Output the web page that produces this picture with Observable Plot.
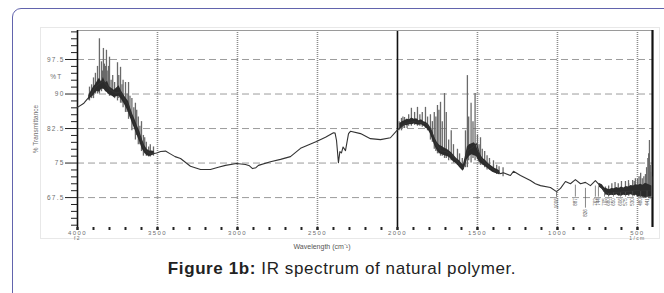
<!DOCTYPE html>
<html><head><meta charset="utf-8">
<script src="https://cdn.jsdelivr.net/npm/d3@7"></script>
<script src="https://cdn.jsdelivr.net/npm/@observablehq/plot@0.6"></script>
<style>
body{margin:0;background:#fff;font-family:"Liberation Sans",Arial,sans-serif;}
#wrap{position:relative;width:664px;height:293px;overflow:hidden;background:#fff;}
#frame{position:absolute;left:12px;top:8px;width:700px;height:330px;border:1.5px solid #6264ad;border-top-left-radius:9px;box-sizing:border-box;}
#imgbox{position:absolute;left:40px;top:27px;width:620px;height:212px;border:1px solid #e8e8e8;box-sizing:border-box;}
#chart{position:absolute;left:0;top:0;}
#chart g[aria-label="x-axis tick label"] text{letter-spacing:1.4px;}
#chart g[aria-label="y-axis tick label"] text{letter-spacing:1.2px;}
#cap{position:absolute;left:0;width:684px;top:259px;text-align:center;font-size:17px;letter-spacing:0.6px;color:#222;white-space:nowrap;}
</style></head>
<body>
<div id="wrap">
  <div id="frame"></div>
  <div id="imgbox"></div>
  <div id="chart"></div>
  <div id="cap"><b>Figure 1b:</b> IR spectrum of natural polymer.</div>
</div>
<script>
// axis settings
const xDomain = [4000, 406];
const yDomain = [61, 103.8];
const xMajor = [4000, 3500, 3000, 2500, 2000, 1500, 1000, 500];
const xSubTicks = [4000, 500];
const xSubLabels = ["f2", "1/cm"];
const xDotted = [3500, 3000, 2500, 1500, 1000, 500];
const xSolid = [2000];
const yMajor = [97.5, 90, 82.5, 75, 67.5];
const yUnitTick = [93.75];
const yUnitLabel = "%T";

// spectrum (wavenumber, %T) – mean trace
const spectrum = [
  [4000,87.1],[3960,88],[3919,89.7],[3888,91.5],[3860,92.3],[3838,92.8],[3819,92],[3800,91],
  [3780,90.6],[3760,90.2],[3731,90.5],[3710,89],[3681,87.5],[3669,86],[3650,84],[3638,83],
  [3620,81.5],[3606,80.5],[3588,78.5],[3575,77.7],[3544,77],[3520,77.1],[3506,77.2],[3480,77.5],
  [3450,77.6],[3420,77],[3390,76.4],[3356,76],[3294,74.3],[3231,73.6],[3169,73.6],[3120,74.1],
  [3075,74.5],[3006,74.9],[2950,74.7],[2925,74.4],[2906,73.8],[2885,74],[2869,74.5],[2794,75.3],
  [2731,75.8],[2669,76.4],[2606,78.2],[2506,79.7],[2450,80.6],[2400,81.6],[2390,81.5],[2381,79.9],
  [2369,75.1],[2360,77.5],[2350,77.2],[2340,78.5],[2325,77.7],[2306,81.4],[2294,81.9],[2231,81.4],
  [2169,80.3],[2106,80.1],[2044,80.5],[2000,82.2],[1950,83.6],[1900,84],[1856,83.8],[1820,83.5],
  [1794,82.5],[1763,79.5],[1731,77.7],[1700,77.5],[1669,77],[1640,76],[1606,74.5],[1588,73.8],
  [1563,77.7],[1531,78.4],[1506,79.2],[1481,76.2],[1450,75],[1419,74],[1380,73.2],[1356,72.7],
  [1338,72.9],[1294,72.3],[1275,73.2],[1231,72.3],[1169,71.2],[1138,70.5],[1106,70.1],[1044,69.7],
  [1006,68.8],[981,69.5],[950,71],[919,70.5],[888,71.4],[856,70.5],[825,70.8],[794,70.1],
  [763,71.2],[744,70.5],[706,68.8],[681,68.4],[638,68.6],[575,68.8],[513,69],[450,69],[419,69]
];

// noisy spikes (wavenumber, low, high)
const spikes = [
  [3925,88.5,91.5],[3912,89,92],[3900,89,93.5],[3888,90,94.5],[3875,90,96],[3863,90,102],
  [3850,90.5,97],[3843,91,95],[3838,91,99.9],[3832,91,96.5],[3825,90.5,96],[3819,90.5,99.5],
  [3810,90,95],[3806,90,96],[3800,89.5,98],[3790,89.5,93],[3780,89.5,94],[3768,89,92.5],
  [3750,88.5,96.8],[3742,89,94],[3731,88,95.8],[3722,88,92],[3715,87,93],[3700,86,92.5],
  [3690,86,90],[3681,84.5,92.5],[3672,85,89.5],[3660,82,89],[3648,83,87],[3638,80,88],
  [3630,81,86.5],[3620,79,85],[3610,79,83],[3600,77.5,84],[3588,76.5,81],[3580,77,80.5],
  [3570,76.5,79.5],[3555,76.3,78.5],[3545,76.3,79],[3525,76.5,78.5],
  [1990,82,84],[1975,82,84.7],[1966,82.5,85],[1956,82.5,84.9],[1940,82.5,84.5],[1930,83,85.5],
  [1913,83,86.9],[1893,83.2,86],[1875,83,87.1],[1860,83,85.5],[1845,82.8,86],[1825,82.5,87.1],
  [1812,82,85],[1794,80,85.5],[1782,79.5,84],[1770,78,86],[1760,77.5,85],[1750,77,87.5],
  [1741,77,86.5],[1731,76.5,88.2],[1720,76.5,84],[1706,76,90.1],[1695,76,86],[1680,75.5,80],
  [1664,75.5,82],[1650,75,79],[1625,74.5,78],[1612,74,77],[1595,73.5,76],[1575,74,82],
  [1563,74,94],[1555,75.5,85],[1540,75,88],[1528,76,84],[1515,75.5,90.1],[1500,76,81],
  [1490,75,79],[1481,74.5,80.5],[1470,74.5,78],[1455,74,77.5],[1440,73.5,76.6],[1425,73.5,76],
  [1400,73,75.5],[1380,72.5,74.5],[1365,72.5,74.2],[1340,72,74],
  [700,68,69.8],[680,67.8,70],[660,68,70.5],[640,68,70.8],[620,68,70.5],[600,67.8,71],
  [575,68,71],[556,68,71.2],[555,67.8,70.5],[530,68,71.2],[520,67.8,71],[513,68.2,71.6],
  [500,67.5,71.5],[490,67.5,72],[480,67.5,72.8],[470,67.5,71.6],[460,67.3,72],[450,67.3,72.5],
  [443,67.4,74],[435,67.5,76],[430,67.3,77],[425,67.3,79.9],[420,67.2,74.5],[415,67.5,73],[412,67.5,72]
];

// dense dark noise bands (wavenumber, low, high)
const band1 = [
  [3930,88.6,89.6],[3915,89.2,90.6],[3900,89.6,91.5],[3888,90.2,92],[3875,90.6,92.8],[3863,90.4,93.4],
  [3850,91,92.6],[3838,91.2,93.6],[3825,90.6,92.4],[3812,90.2,92.8],[3800,89.8,91.6],[3785,89.6,91.2],
  [3770,89.2,90.8],[3755,89.4,91.3],[3740,89.5,91.8],[3725,88.8,90.6],[3710,88,89.8],[3695,87,89],
  [3681,86,88.4],[3669,84.8,87],[3655,83.5,85.6],[3640,82.2,84.4],[3625,80.8,83],[3610,79.5,81.8],
  [3595,78,80.2],[3580,77.2,78.8],[3565,76.6,78],[3550,76.4,77.6],[3535,76.6,77.6],[3520,76.8,77.5]
];
const band2 = [
  [1985,82.4,83.6],[1970,82.8,84],[1955,83.2,84.2],[1940,83.1,84.5],[1925,83.4,84.4],[1910,83.3,84.8],
  [1895,83.5,84.5],[1880,83.3,84.6],[1865,83.2,84.2],[1850,83.3,84.4],[1835,83,84],[1820,82.6,83.8],
  [1805,82,83.4],[1794,81.3,82.8],[1780,80,81.8],[1765,78.6,80.4],[1750,77.6,79.4],[1735,77,78.8],
  [1720,76.8,78.6],[1705,76.6,78.2],[1690,76.4,78],[1675,76.2,77.6],[1660,75.6,77.2],[1645,75.2,76.6],
  [1630,74.8,76],[1615,74.2,75.6],[1600,73.6,75],[1588,73.2,74.6],[1575,74.5,76.5],[1563,75.8,78.5],
  [1550,76.4,79],[1535,76.8,79.2],[1520,76.6,79.4],[1506,76.4,78.8],[1495,75.6,77.6],[1481,75,76.8],
  [1465,74.6,76],[1450,74.2,75.6],[1435,73.8,75],[1420,73.4,74.6],[1405,73,74.2],[1390,72.8,73.8],
  [1375,72.6,73.6],[1360,72.4,73.3]
];
const band3 = [
  [740,69.8,70.6],[720,69.3,70.3],[705,68.5,69.6],[690,68,69.4],[675,67.9,69.2],[660,68,69.5],
  [645,67.9,69.4],[630,68.1,69.7],[615,67.8,69.5],[600,67.9,69.8],[585,68,69.6],[570,67.9,69.9],
  [555,68,69.8],[540,68.1,70.1],[525,67.9,70],[510,68,70.3],[495,67.7,70.2],[480,67.8,70.4],
  [465,67.6,70.2],[450,67.5,70.6],[435,67.6,70.4],[420,67.7,70.2],[410,67.8,70]
];

// peak annotations (wavenumber, curve value, label end value, label)
const peaks = [
  [1006,68.8,67.6,"1006"],[888,70.2,67.6,"887"],[825,69.5,65.2,"826"],[763,70.0,67.6,"763"],
  [744,69.8,67.6,"744"],[706,68.6,67.6,"705"],[681,68.3,67.6,"680"],[650,68.5,67.6,"650"],
  [606,68.5,67.6,"606"],[575,68.6,67.6,"575"],[530,68.8,67.6,"530"],[480,68.8,67.6,"480"],
  [440,68.9,67.6,"441"]
];

const xMinor = d3.range(4000, 450, -100);
const yMinor = d3.range(61.5, 103.8, 1.5).filter(v => !yMajor.includes(v));

const font = "Liberation Sans, Arial, sans-serif";
const chart = Plot.plot({
  width: 664, height: 255,
  marginLeft: 77, marginRight: 12, marginTop: 30, marginBottom: 28,
  style: {background: "transparent", fontFamily: font, overflow: "visible"},
  x: {domain: xDomain, axis: null},
  y: {domain: yDomain, axis: null},
  marks: [
    Plot.ruleY(yMajor, {stroke: "#9c9c9c", strokeDasharray: "7,4", strokeWidth: 1}),
    Plot.ruleX(xDotted, {stroke: "#8c8c8c", strokeDasharray: "1,1", strokeWidth: 1.6}),
    Plot.ruleX(xSolid, {stroke: "#111", strokeWidth: 1.6}),
    Plot.ruleY([yDomain[1]], {stroke: "#9a9a9a", strokeWidth: 1}),
    Plot.ruleX([xDomain[1]], {stroke: "#111", strokeWidth: 2.2}),
    Plot.ruleX([xDomain[0]], {stroke: "#111", strokeWidth: 1.6}),
    Plot.ruleX(spikes, {x: d => d[0], y1: d => d[1], y2: d => d[2], stroke: "#6a6a6a", strokeWidth: 1.3}),
    Plot.areaY(band1, {x: d => d[0], y1: d => d[1], y2: d => d[2], fill: "#2b2b2b"}),
    Plot.areaY(band2, {x: d => d[0], y1: d => d[1], y2: d => d[2], fill: "#2b2b2b"}),
    Plot.areaY(band3, {x: d => d[0], y1: d => d[1], y2: d => d[2], fill: "#2b2b2b"}),
    Plot.line(spectrum, {x: d => d[0], y: d => d[1], stroke: "#333", strokeWidth: 1.1}),
    Plot.ruleX(peaks, {x: d => d[0], y1: d => d[1], y2: d => d[2], stroke: "#555", strokeWidth: 0.7}),
    Plot.text(peaks, {x: d => d[0], y: d => d[2], text: d => d[3], rotate: -90, textAnchor: "end",
      fontSize: 4.5, fill: "#555", dy: 1}),
    // axes
    Plot.axisY(yMinor, {tickSize: 6, tickFormat: () => "", stroke: "#222", label: null}),
    Plot.axisY(yMajor, {tickSize: 12, tickPadding: 1, fontSize: 6.5, fill: "#6e6e6e", stroke: "#222",
      tickFormat: d => String(d), label: "% Transmittance", labelAnchor: "center", labelOffset: 44, labelArrow: "none"}),
    Plot.axisY(yUnitTick, {tickSize: 0, tickPadding: 15, fontSize: 6.5, fill: "#6e6e6e", tickFormat: () => yUnitLabel, label: null}),
    Plot.axisX(xMinor, {tickSize: 3, strokeWidth: 2, stroke: "#222", tickFormat: () => "", label: null}),
    Plot.axisX(xMajor, {tickSize: 3, strokeWidth: 2, stroke: "#222", tickPadding: 0, fontSize: 6, fill: "#6e6e6e",
      tickFormat: d => String(d), label: null}),
    Plot.axisX(xSubTicks, {tickSize: 0, tickPadding: 9, fontSize: 5, fill: "#6e6e6e",
      tickFormat: (d, i) => xSubLabels[xSubTicks.indexOf(d)], label: null}),
    Plot.text(["Wavelength (cm\u207B\u00B9)"], {frameAnchor: "bottom", lineAnchor: "middle", dx: -43, dy: 19,
      fontSize: 7, fill: "#555"})
  ]
});
document.getElementById("chart").appendChild(chart);
</script>
</body></html>
